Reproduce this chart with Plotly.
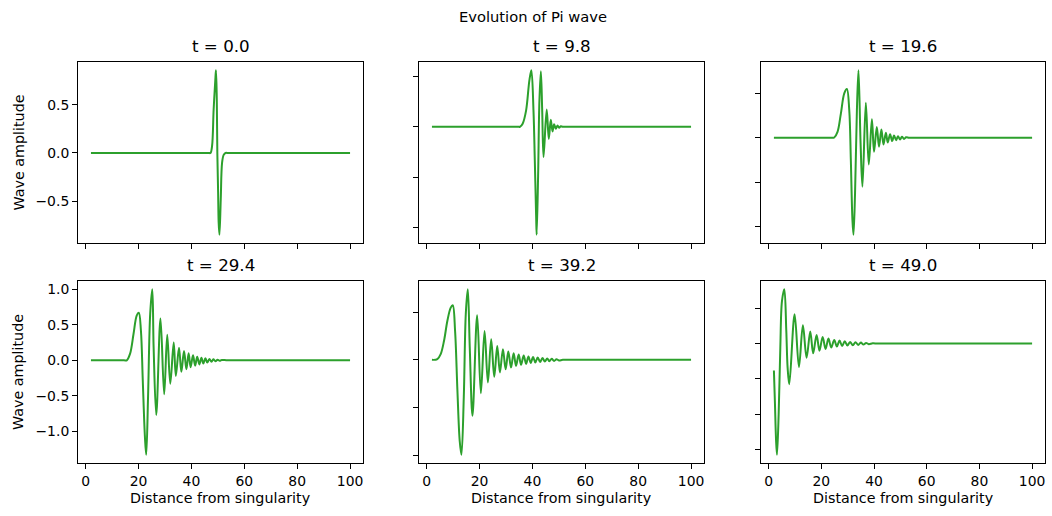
import plotly.graph_objects as go

# Evolution of Pi wave - amplitude vs distance from singularity
times = [0.0, 9.8, 19.6, 29.4, 39.2, 49.0]

x_t00 = [2, 46.5, 47.2, 47.8, 48.4, 49.1, 49.3, 49.6, 49.8, 50.1, 50.3, 50.6, 51.1, 51.6,
         52.2, 52.9, 54, 95, 100]
amp_t00 = [0, 0, 0, 0.07, 0.45, 0.79, 0.86, 0.55, 0.0, -0.41, -0.72, -0.85, -0.48, -0.10,
           -0.02, 0, 0, 0, 0]

x_t10 = [2, 34.5, 35.3, 36.3, 37.6, 38.85, 39.6, 40.4, 40.9, 41.4, 41.6, 42.15, 42.65, 43.2,
         43.7, 44.2, 45.4, 46.2, 46.95, 47.6, 48.2, 48.85, 49.5, 50.1, 50.7, 51.5, 53, 95, 100]
amp_t10 = [0, 0, 0, 0.03, 0.16, 0.46, 0.56, 0.16, -0.33, -0.88, -1.07, -0.49, 0.26, 0.55,
           0.16, -0.30, 0.17, -0.12, 0.07, -0.046, 0.026, -0.02, 0.013, -0.01, 0.005, 0, 0, 0, 0]

x_t20 = [2, 6, 23, 24, 24.9, 26.15, 27.4, 28.7, 29.7, 30.6, 31.2, 31.8, 32.2, 32.8, 33.5, 34.1,
         34.9, 35.6, 36.9, 38.0, 39.2, 40.0, 41.05, 41.9, 42.8, 43.6, 44.5, 45.2, 46.1, 46.9,
         47.6, 48.4, 49.1, 49.9, 50.6, 51.4, 52.2, 53.3, 55, 95, 100]
amp_t20 = [0, 0, 0, 0, 0.004, 0.067, 0.27, 0.50, 0.55, 0.31, -0.25, -0.92, -1.09, -0.62, 0.31,
           0.76, -0.06, -0.55, 0.395, -0.30, 0.21, -0.157, 0.123, -0.10, 0.093, -0.075, 0.056,
           -0.052, 0.041, -0.037, 0.026, -0.026, 0.019, -0.019, 0.012, -0.012, 0.006, 0, 0, 0, 0]

x_t30 = [2, 6, 14.5, 15.55, 16.8, 18.1, 19.3, 20.1, 20.9, 21.6, 22.4, 22.9, 23.6, 24.4, 25.2,
         25.7, 26.7, 28.3, 29.7, 30.85, 32.0, 33.3, 34.1, 35.3, 36.2, 37.2, 38.1, 38.95, 39.7,
         40.6, 41.4, 42.2, 43.0, 43.8, 44.5, 45.3, 46.0, 46.8, 47.6, 48.3, 49.1, 49.9, 50.7,
         51.5, 53.5, 57, 95, 100]
amp_t30 = [0, 0, 0, 0, 0.093, 0.37, 0.63, 0.67, 0.42, -0.28, -1.07, -1.33, -0.51, 0.65, 1.0,
           0.19, -0.77, 0.59, -0.48, 0.36, -0.33, 0.25, -0.22, 0.177, -0.163, 0.131, -0.126,
           0.098, -0.098, 0.07, -0.075, 0.051, -0.058, 0.037, -0.045, 0.028, -0.032, 0.019,
           -0.022, 0.014, -0.014, 0.008, -0.008, 0.004, 0, 0, 0, 0]

x_t40 = [2, 4.04, 5.3, 6.57, 7.84, 9.1, 9.86, 10.75, 11.63, 12.5, 13.15, 14.04, 14.8, 15.56,
         16.3, 17.33, 19.1, 20.5, 21.9, 23.16, 24.4, 25.56, 26.7, 27.7, 28.85, 29.86, 30.88,
         31.9, 32.9, 33.8, 34.8, 35.7, 36.7, 37.6, 38.5, 39.36, 40.25, 41.1, 42.0, 42.9, 43.8,
         44.7, 45.6, 46.4, 47.3, 48.2, 49.1, 50.0, 51.5, 55, 95, 100]
amp_t40 = [0, 0.007, 0.059, 0.20, 0.41, 0.547, 0.572, 0.30, -0.32, -0.85, -0.994, -0.39, 0.48,
           0.739, 0.13, -0.586, 0.467, -0.349, 0.303, -0.237, 0.216, -0.178, 0.146, -0.132,
           0.112, -0.098, 0.087, -0.08, 0.07, -0.063, 0.056, -0.052, 0.045, -0.042, 0.036,
           -0.033, 0.029, -0.028, 0.025, -0.022, 0.019, -0.018, 0.015, -0.014, 0.011, -0.011,
           0.006, -0.006, 0, 0, 0, 0]

x_t50 = [2.0, 2.4, 2.8, 3.17, 3.8, 4.43, 5.06, 5.95, 6.7, 7.2, 7.84, 9.86, 11.5, 13.0, 14.4,
         15.8, 16.9, 18.2, 19.3, 20.5, 21.6, 22.7, 23.75, 24.9, 25.9, 26.9, 27.9, 28.9, 29.9,
         30.9, 31.96, 32.97, 33.98, 35.0, 36.0, 37.0, 38.0, 39.5, 41.3, 45, 95, 100]
amp_t50 = [-0.38, -0.85, -1.35, -1.57, -1.0, -0.06, 0.60, 0.767, 0.18, -0.34, -0.574, 0.414,
           -0.33, 0.26, -0.2, 0.17, -0.137, 0.12, -0.10, 0.094, -0.075, 0.07, -0.056, 0.052,
           -0.042, 0.042, -0.033, 0.033, -0.028, 0.024, -0.024, 0.019, -0.019, 0.014, -0.014,
           0.009, -0.009, 0.004, 0, 0, 0, 0]

curves = [(x_t00, amp_t00), (x_t10, amp_t10), (x_t20, amp_t20),
          (x_t30, amp_t30), (x_t40, amp_t40), (x_t50, amp_t50)]

W, H = 1052, 516
cols = [(78, 363), (419, 704), (761, 1045)]
rows = [(62, 243), (281, 463)]
font = "DejaVu Sans"
tick_font = dict(family=font, size=13.9, color="black")


def label(text, x, y, size=14.3, angle=0):
    return dict(text=text, x=x / W, y=1 - y / H, xref="paper", yref="paper",
                xanchor="center", yanchor="middle", showarrow=False, textangle=angle,
                font=dict(family=font, size=size, color="black"))


fig = go.Figure()
annotations = []
for i, (xs, ys) in enumerate(curves):
    r, c = divmod(i, 3)
    n = "" if i == 0 else str(i + 1)
    fig.add_trace(go.Scatter(x=xs, y=ys, mode="lines", showlegend=False,
                             line=dict(color="#2ca02c", width=2, shape="spline", smoothing=1),
                             xaxis="x" + n, yaxis="y" + n))
    xpad = 0.05 * (max(xs) - min(xs))
    ypad = 0.05 * (max(ys) - min(ys))
    x0, x1 = cols[c]
    y0, y1 = rows[r]
    common = dict(showline=True, mirror=True, linecolor="black", linewidth=1,
                  ticks="outside", ticklen=5, tickwidth=1, tickcolor="black",
                  showgrid=False, zeroline=False, tickfont=tick_font)
    fig.update_layout(**{
        "xaxis" + n: dict(domain=[x0 / W, x1 / W], anchor="y" + n,
                          range=[min(xs) - xpad, max(xs) + xpad], tick0=0, dtick=20,
                          showticklabels=(r == 1), **common),
        "yaxis" + n: dict(domain=[1 - y1 / H, 1 - y0 / H], anchor="x" + n,
                          range=[min(ys) - ypad, max(ys) + ypad], tick0=0, dtick=0.5,
                          tickformat=".1f", showticklabels=(c == 0), **common),
    })
    annotations.append(label(f"t = {times[i]:.1f}", (x0 + x1) / 2, y0 - 16, size=16.7))
    if r == 1:
        annotations.append(label("Distance from singularity", (x0 + x1) / 2, 498))
    if c == 0:
        annotations.append(label("Wave amplitude", 18, (y0 + y1) / 2, angle=-90))

annotations.append(label("Evolution of Pi wave", 533, 16, size=14.7))

fig.update_layout(width=W, height=H, margin=dict(l=0, r=0, t=0, b=0),
                  paper_bgcolor="white", plot_bgcolor="white", annotations=annotations)

# the page's default 8px body margin would shift the figure
fig.write_html("out.html", config={"displayModeBar": False},
               post_script="document.body.style.margin='0';")
